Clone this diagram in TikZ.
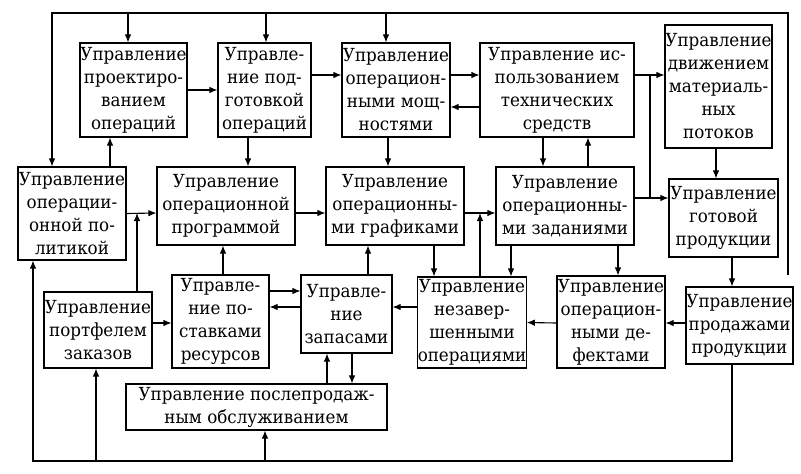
\documentclass[tikz,border=0pt]{standalone}
\usepackage{fontspec}
\setmainfont[FakeStretch=0.93]{DejaVu Serif}
\usetikzlibrary{arrows.meta}
\begin{document}
\begin{tikzpicture}[x=1pt,y=-1pt,line width=1.1pt,>={Latex[length=8pt,width=6.5pt]},
  blok/.style={draw,align=center,inner sep=0pt,font=\rmfamily\fontsize{18}{23}\selectfont}]
\useasboundingbox (0,0) rectangle (801,474);
% upper row
\node[blok,minimum width=107pt,minimum height=94pt] (proekt) at (133.5,90) {Управление\\проектиро-\\ванием\\операций};
\node[blok,minimum width=93pt,minimum height=94pt] (podgot) at (264.5,90) {Управле-\\ние под-\\готовкой\\операций};
\node[blok,minimum width=108pt,minimum height=94pt] (moshch) at (396,90) {Управление\\операцион-\\ными мощ-\\ностями};
\node[blok,minimum width=154pt,minimum height=94pt] (tekh) at (557,90) {Управление ис-\\пользованием\\технических\\средств};
\node[blok,minimum width=107pt,minimum height=123pt] (mater) at (718.5,86.5) {Управление\\движением\\материаль-\\ных\\потоков};
% middle row
\node[blok,minimum width=108pt,minimum height=93pt] (politika) at (72,213.5) {Управление\\операции-\\онной по-\\литикой};
\node[blok,minimum width=138pt,minimum height=78pt] (programma) at (226,206) {Управление\\операционной\\программой};
\node[blok,minimum width=138pt,minimum height=78pt] (grafiki) at (395,206) {Управление\\операционны-\\ми графиками};
\node[blok,minimum width=138pt,minimum height=78pt] (zadaniya) at (565,206) {Управление\\операционны-\\ми заданиями};
\node[blok,minimum width=109pt,minimum height=78pt] (gotovoy) at (723.5,218) {Управление\\готовой\\продукции};
% lower row
\node[blok,minimum width=108pt,minimum height=76pt] (portfel) at (98,330) {Управление\\портфелем\\заказов};
\node[blok,minimum width=97pt,minimum height=93pt] (postavki) at (220.5,321.5) {Управле-\\ние по-\\ставками\\ресурсов};
\node[blok,minimum width=91pt,minimum height=78pt] (zapasy) at (346.5,314) {Управле-\\ние\\запасами};
\node[blok,minimum width=108pt,minimum height=91pt] (nezav) at (472,322.5) {Управление\\незавер-\\шенными\\операциями};
\node[blok,minimum width=108pt,minimum height=92pt] (defekty) at (611,322) {Управление\\операцион-\\ными де-\\фектами};
\node[blok,minimum width=107pt,minimum height=77pt] (prodazhi) at (739.5,325.5) {Управление\\продажами\\продукции};
\node[blok,minimum width=261pt,minimum height=46pt] (servis) at (256.5,407) {Управление послепродаж-\\ным обслуживанием};
% points of the outer lines
\coordinate (verh) at (52,13);
\coordinate (pravo) at (788,275);
\coordinate (v1) at (128,13);
\coordinate (v2) at (266,13);
\coordinate (v3) at (386,13);
\coordinate (niz) at (33,461);
\coordinate (n1) at (96,461);
\coordinate (n2) at (265,461);
\coordinate (r1) at (650,75);
\coordinate (r2) at (650,198);
\coordinate (l1) at (137,213);
\coordinate (l2) at (480,213);
% outer lines
\draw[->] (pravo) |- (verh) -- (verh |- politika.north);
\draw[->] (v1) -- (v1 |- proekt.north);
\draw[->] (v2) -- (v2 |- podgot.north);
\draw[->] (v3) -- (v3 |- moshch.north);
\draw[->] ([xshift=-7.5pt]prodazhi.south) |- (niz) -- (niz |- politika.south);
\draw[->] (n1) -- (n1 |- portfel.south);
\draw[->] (n2) -- (n2 |- servis.south);
% upper row
\draw[->] (proekt.east) -- (podgot.west);
\draw[->] ([yshift=15pt]podgot.east) -- ([yshift=15pt]moshch.west);
\draw[->] ([yshift=15pt]moshch.east) -- ([yshift=15pt]tekh.west);
\draw[->] ([yshift=-17pt]tekh.west) -- ([yshift=-17pt]moshch.east);
\draw[->] ([yshift=15pt]tekh.east) -- ([yshift=11.5pt]mater.west);
\draw (r1) -- (r2);
\draw[->] ([yshift=8pt]zadaniya.east) -- ([yshift=20pt]gotovoy.west);
\draw[->] ([xshift=-2.5pt]mater.south) -- ([xshift=-7.5pt]gotovoy.north);
% between upper and middle rows
\draw[->] ([xshift=38pt]politika.north) -- ([xshift=-23.5pt]proekt.south);
\draw[->] ([xshift=-16.5pt]podgot.south) -- ([xshift=22pt]programma.north);
\draw[->] ([xshift=-8pt]moshch.south) -- ([xshift=-7pt]grafiki.north);
\draw[->] ([xshift=-14pt]tekh.south) -- ([xshift=-22pt]zadaniya.north);
\draw[->] ([xshift=23pt]zadaniya.north) -- ([xshift=31pt]tekh.south);
% middle row
\draw[->] (politika.east) -- ([yshift=-7pt]programma.west);
\draw[->] ([xshift=39pt]portfel.north) -- (l1);
\draw[->] ([yshift=-7pt]programma.east) -- ([yshift=-7pt]grafiki.west);
\draw[->] ([yshift=-7pt]grafiki.east) -- ([yshift=-7pt]zadaniya.west);
\draw[->] ([xshift=8pt]nezav.north) -- (l2);
% between middle and lower rows
\draw[->] ([xshift=2.5pt]postavki.north) -- ([xshift=-3pt]programma.south);
\draw[->] ([xshift=21.5pt]zapasy.north) -- ([xshift=-27pt]grafiki.south);
\draw[->] ([xshift=39pt]grafiki.south) -- ([xshift=-38pt]nezav.north);
\draw[->] ([xshift=-54pt]zadaniya.south) -- ([xshift=39pt]nezav.north);
\draw[->] ([xshift=53pt]zadaniya.south) -- ([xshift=7pt]defekty.north);
\draw[->] ([xshift=8.5pt]gotovoy.south) -- ([xshift=-7.5pt]prodazhi.north);
% lower row
\draw[->] ([yshift=2.5pt]prodazhi.west) -- ([yshift=-1pt]defekty.east);
\draw[->] ([yshift=-1pt]defekty.west) -- (nezav.east);
\draw[->] ([yshift=15.5pt]nezav.west) -- ([yshift=7pt]zapasy.east);
\draw[->] ([yshift=30.5pt]postavki.east) -- ([yshift=23pt]zapasy.west);
\draw[->] ([yshift=7pt]zapasy.west) -- ([yshift=14.5pt]postavki.east);
\draw[->] ([yshift=7pt]portfel.east) -- ([yshift=-1.5pt]postavki.west);
\draw[->] ([xshift=70.5pt]servis.north) -- ([xshift=-19.5pt]zapasy.south);
\draw[->] ([xshift=5.5pt]zapasy.south) -- ([xshift=95.5pt]servis.north);
\end{tikzpicture}
\end{document}
